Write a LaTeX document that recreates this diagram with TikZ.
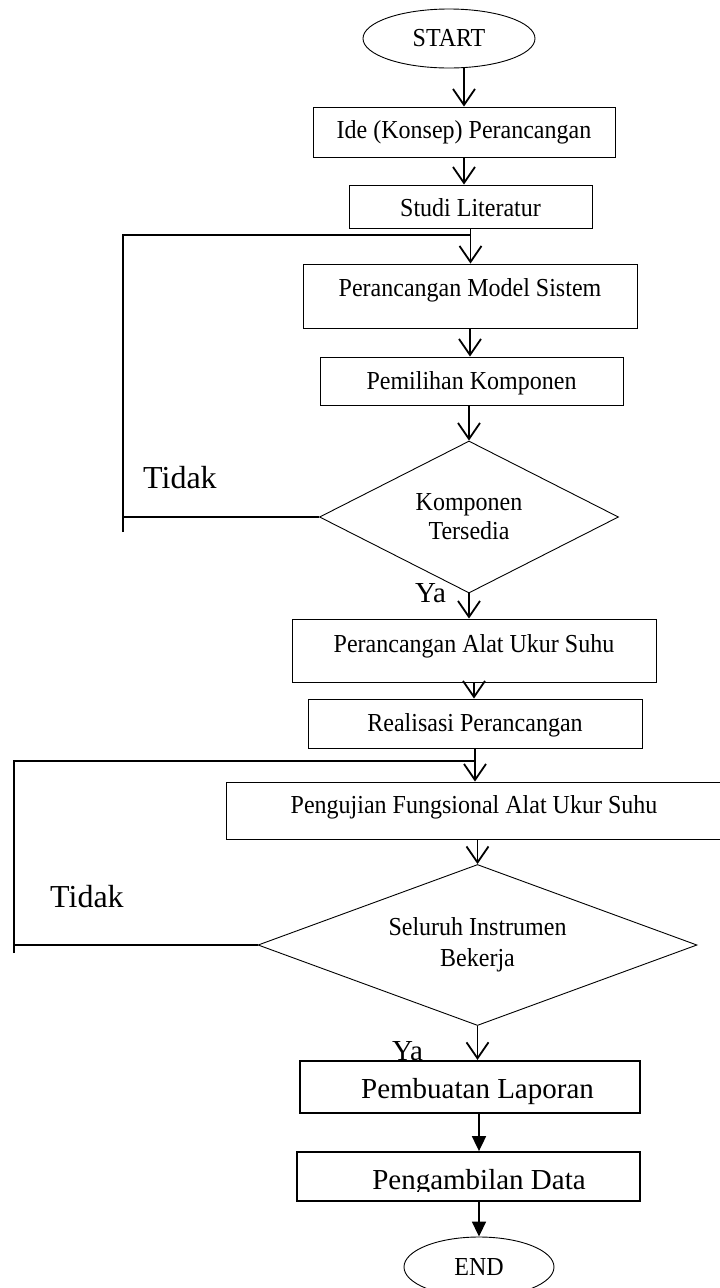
\documentclass[tikz,border=0pt]{standalone}
\usepackage{fontspec}
\usepackage{graphicx}
\setmainfont{Liberation Serif}
\usetikzlibrary{shapes.geometric,arrows.meta}
\newcommand{\vst}[1]{\scalebox{1}[1.08]{#1}}
\begin{document}
\begin{tikzpicture}[x=1bp,y=-1bp,
  boxs/.style={draw, line width=0.9bp, inner sep=0pt, anchor=base, font=\fontsize{24bp}{29bp}\selectfont},
  thickbox/.style={boxs, line width=2.2bp, font=\fontsize{29bp}{34bp}\selectfont},
  dec/.style={draw, shape=diamond, line width=0.9bp, inner sep=0pt, align=center},
  term/.style={draw, ellipse, line width=0.9bp, inner sep=0pt, font=\fontsize{24bp}{29bp}\selectfont},
  arr/.style={line width=1.8bp, -{Straight Barb[length=16bp,width=22bp]}},
  tri/.style={line width=1.8bp, -{Triangle[length=15bp,width=14bp]}},
  loopline/.style={line width=1.2bp},
  lbl/.style={inner sep=0pt, anchor=base west}]
\fill[white] (0,0) rectangle (720,1288);
\useasboundingbox (0,0) rectangle (720,1288);

% terminals
\node[term, minimum width=172bp, minimum height=59bp] (start) at (449,38.5) {\vst{START}};
\node[term, minimum width=150bp, minimum height=60bp] (end) at (479,1267) {\vst{END}};

% process boxes
\node[boxs, minimum width=302bp, text height=31bp, text depth=19bp] (ide) at (464,138) {\vst{Ide (Konsep) Perancangan}};
\node[boxs, minimum width=243bp, text height=31bp, text depth=12bp] (studi) at (470.5,216) {\vst{Studi Literatur}};
\node[boxs, minimum width=334bp, text height=32bp, text depth=32bp] (pm) at (470,296) {\vst{Perancangan Model Sistem}};
\node[boxs, minimum width=303bp, text height=32bp, text depth=16bp] (pem) at (471.5,389) {\vst{Pemilihan Komponen}};
\node[boxs, minimum width=364bp, text height=33bp, text depth=30bp] (pa) at (474,652) {\vst{Perancangan Alat Ukur Suhu}};
\node[boxs, minimum width=334bp, text height=32bp, text depth=17bp] (re) at (475,731) {\vst{Realisasi Perancangan}};
\node[boxs, minimum width=496bp, text height=31bp, text depth=26bp] (pu) at (474,813) {\vst{Pengujian Fungsional Alat Ukur Suhu}};

% decisions
\node[dec, shape aspect=1.97, minimum width=299bp, minimum height=152bp, font=\fontsize{24bp}{29bp}\selectfont] (d1) at (469,517) {\vst{Komponen}\\\vst{Tersedia}};
\node[dec, shape aspect=2.73, minimum width=439bp, minimum height=161bp, font=\fontsize{24bp}{31bp}\selectfont] (d2) at (477.5,945) {\vst{Seluruh Instrumen}\\\vst{Bekerja}};

% labels
\node[lbl, font=\fontsize{32bp}{38bp}\selectfont] (tidak1) at (143,488) {Tidak};
\node[lbl, font=\fontsize{32bp}{38bp}\selectfont] (tidak2) at (50,907) {Tidak};
\node[lbl, font=\fontsize{29bp}{34bp}\selectfont] (ya1) at (415,602) {Ya};
\node[lbl, font=\fontsize{29bp}{34bp}\selectfont] (ya2) at (392,1060) {Ya};

% thick boxes
\node[thickbox, minimum width=340bp, text height=37bp, text depth=15bp] (pl) at (470,1098) {\hspace*{15bp}Pembuatan Laporan};
\node[thickbox, line width=1.8bp, minimum width=343bp, text height=37bp, text depth=12bp] (pd) at (468.5,1189) {};
\begin{scope}
  \clip (297,1150) rectangle (640,1191);
  \node[inner sep=0pt, anchor=base, font=\fontsize{29bp}{34bp}\selectfont] (pdtxt) at (479,1189) {Pengambilan Data};
\end{scope}

% main arrows
\draw[arr] (start.south -| ide.north) -- (ide.north);
\draw[arr] (ide.south) -- (ide.south |- studi.north);
\draw[arr] (studi.south) -- (studi.south |- pm.north);
\draw[arr] (pm.south) -- (pm.south |- pem.north);
\draw[arr] (pem.south -| d1.north) -- (d1.north);
\draw[arr] (d1.south) -- (d1.south |- pa.north);
\draw[arr] (pa.south) -- (pa.south |- re.north);
\draw[arr] (re.south) -- (re.south |- pu.north);
\draw[arr] (pu.south -| d2.north) -- (d2.north);
\draw[arr] (d2.south) -- (d2.south |- pl.north);
\draw[tri] (pl.south -| end.north) -- (pd.north -| end.north);
\draw[tri] (pd.south -| end.north) -- (end.north);

% loop 1
\coordinate (l1a) at (123,235);
\coordinate (l1b) at (123,532);
\draw[loopline] (d1.west) -- (d1.west -| l1a);
\draw[loopline] (l1b) -- (l1a) -- (l1a -| studi.south);

% loop 2
\coordinate (l2a) at (14,761);
\coordinate (l2b) at (14,953);
\draw[loopline] (d2.west) -- (d2.west -| l2a);
\draw[loopline] (l2b) -- (l2a) -- (l2a -| re.south);
\end{tikzpicture}
\end{document}
